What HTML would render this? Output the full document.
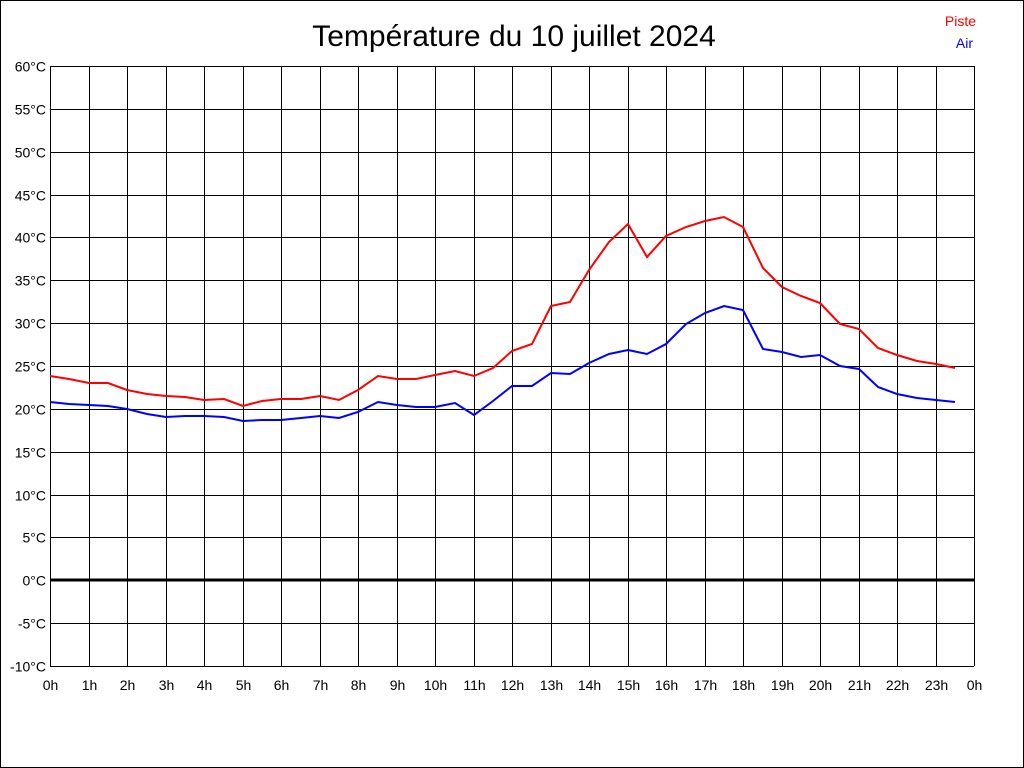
<!DOCTYPE html>
<html><head><meta charset="utf-8"><style>
body{margin:0;background:#fff}
svg{display:block;font-family:"Liberation Sans",sans-serif}
</style></head><body>
<svg width="1024" height="768" viewBox="0 0 1024 768">
<rect x="0.5" y="0.5" width="1023" height="767" fill="#fff" stroke="#000"/>
<text x="514" y="46" font-size="30" text-anchor="middle">Température du 10 juillet 2024</text>
<text x="976" y="26" font-size="14" fill="#f00" text-anchor="end">Piste</text>
<text x="973" y="48" font-size="14" fill="#00f" text-anchor="end">Air</text>
<g id="g" stroke="#000" stroke-width="1"></g>
<g id="l" font-size="14" fill="#000"></g>
<line x1="50" y1="580" x2="974" y2="580" stroke="#000" stroke-width="3"/>
<polyline fill="none" stroke="#f00" stroke-width="2" points="50,376 69,379 89,383 108,383 127,390 147,394 166,396 185,397 204,400 224,399 243,406 262,401 281,399 301,399 320,396 339,400 358,390 378,376 397,379 416,379 435,375 455,371 474,376 493,368 512,351 532,344 551,306 570,302 589,270 609,242 628,224 647,257 666,236 686,227 705,221 724,217 743,227 763,268 782,287 801,296 820,303 840,324 859,329 878,348 897,355 917,361 936,364 955,368"/>
<polyline fill="none" stroke="#00f" stroke-width="2" points="50,402 69,404 89,405 108,406 127,409 147,414 166,417 185,416 204,416 224,417 243,421 262,420 281,420 301,418 320,416 339,418 358,412 378,402 397,405 416,407 435,407 455,403 474,415 493,401 512,386 532,386 551,373 570,374 589,363 609,354 628,350 647,354 666,344 686,324 705,313 724,306 743,310 763,349 782,352 801,357 820,355 840,366 859,369 878,387 897,394 917,398 936,400 955,402"/>
</svg>
<script>
var g=document.getElementById('g'),l=document.getElementById('l'),ns='http://www.w3.org/2000/svg';
function el(p,t,a,tx){var e=document.createElementNS(ns,t);for(var k in a)e.setAttribute(k,a[k]);if(tx!=null)e.textContent=tx;p.appendChild(e);}
for(var i=0;i<=14;i++){var y=66+i*600/14;y=Math.round(y)+0.5;el(g,'line',{x1:50,x2:974,y1:y,y2:y});
el(l,'text',{x:46,y:y+5,'text-anchor':'end'},(60-5*i)+'°C');}
for(var h=0;h<=24;h++){var x=Math.round(50+h*38.5)+0.5;el(g,'line',{x1:x,x2:x,y1:66,y2:666});
el(l,'text',{x:x,y:690,'text-anchor':'middle'},(h%24)+'h');}
</script>
</body></html>
